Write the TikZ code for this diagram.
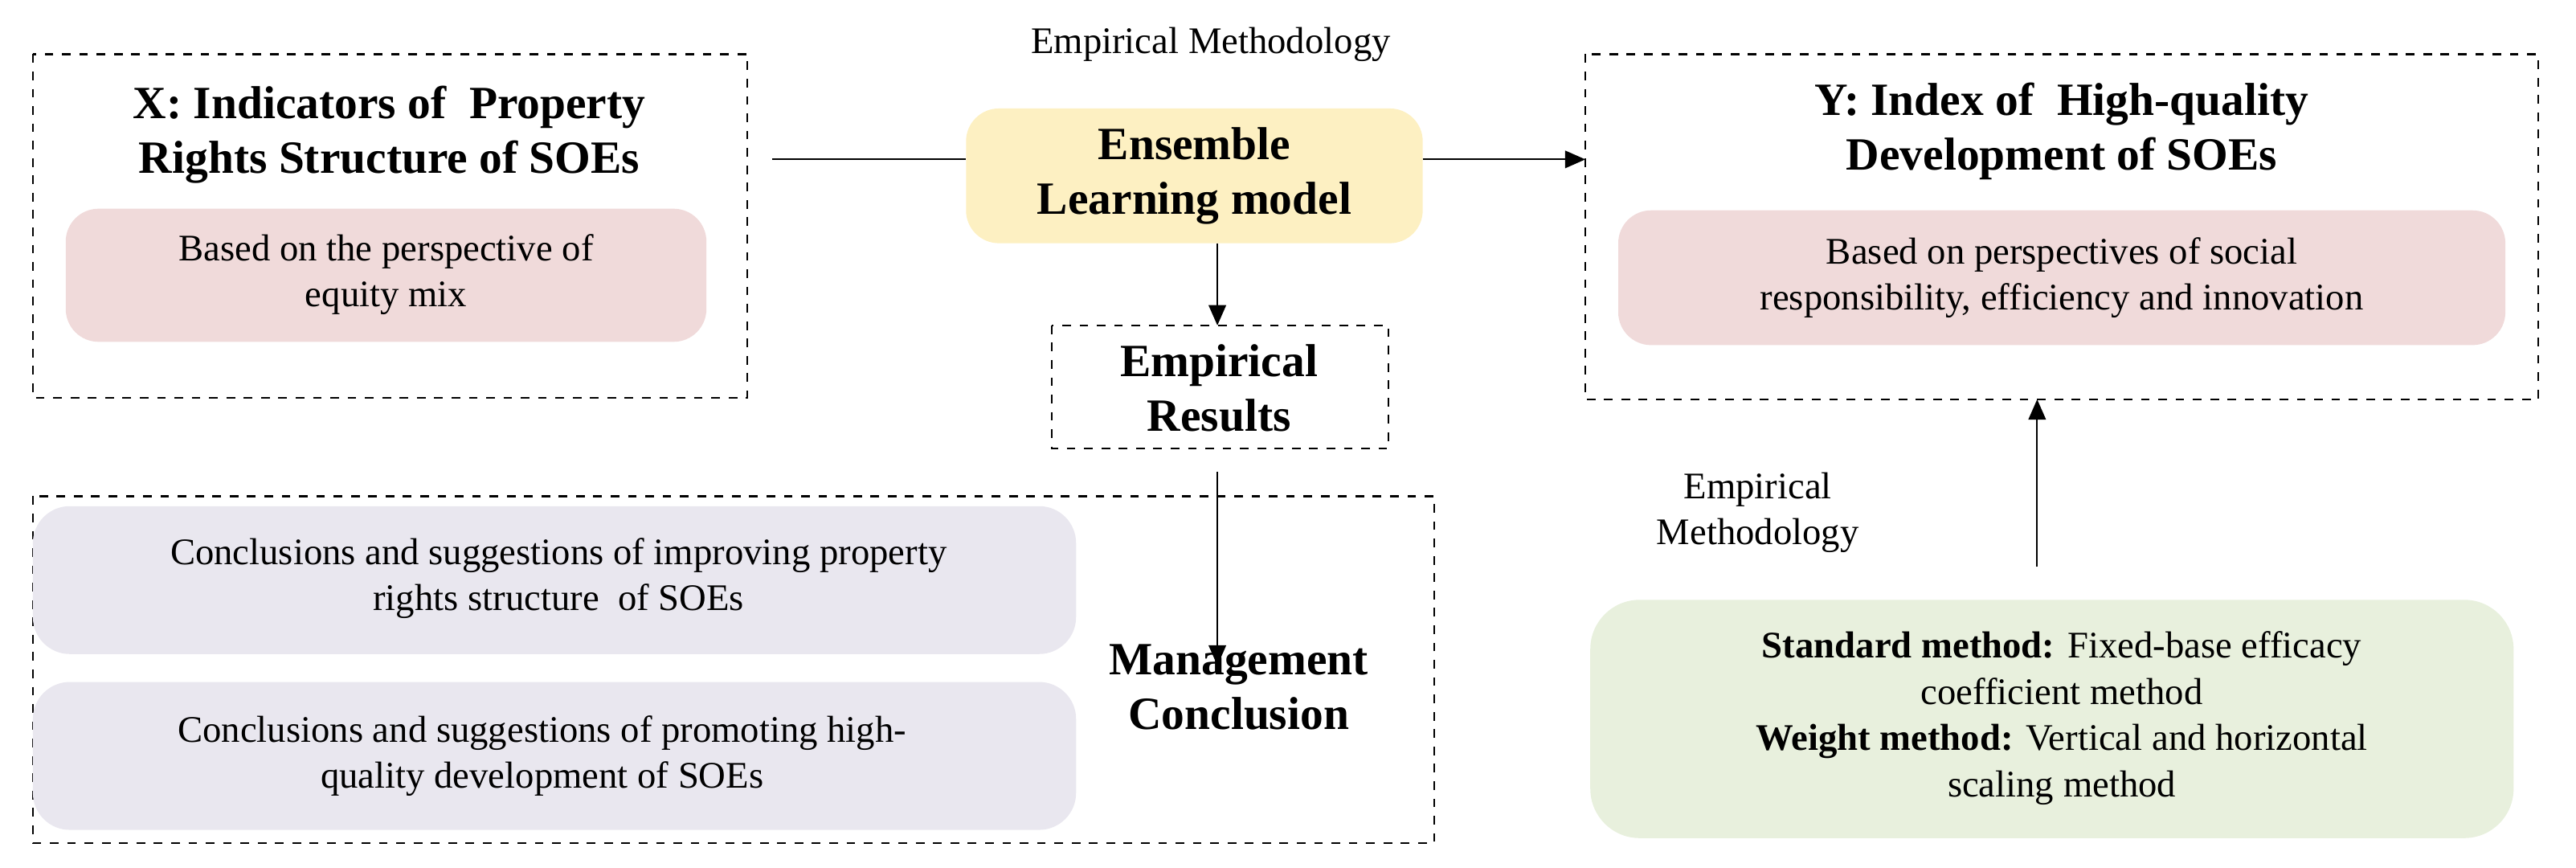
\documentclass[tikz,border=0pt]{standalone}
\usepackage{fontspec}
\setmainfont{Liberation Serif}
\usetikzlibrary{arrows.meta}
\definecolor{pinkf}{HTML}{F0DADA}
\definecolor{yelf}{HTML}{FDF0C2}
\definecolor{lavf}{HTML}{E9E7EF}
\definecolor{grnf}{HTML}{E8F0DD}
\begin{document}
\begin{tikzpicture}[x=0.02cm,y=-0.02cm,
  dbox/.style={draw,dashed,line width=0.6pt},
  pill/.style={rounded corners=0.4cm,draw=none,align=center,font=\fontsize{13}{16}\selectfont},
  ttl/.style={align=center,font=\fontsize{16}{19}\selectfont\bfseries},
  txt/.style={align=center,font=\fontsize{13}{16}\selectfont},
  arr/.style={-{Triangle[length=7pt,width=6pt]},line width=0.6pt}]
\useasboundingbox (0,0) rectangle (1568,528);
% X box
\draw[dbox] (20,33) rectangle (455,242);
\node[ttl] (xt) at (237,82) {X: Indicators of\ \ Property\\Rights Structure of SOEs};
\fill[pinkf,rounded corners=0.4cm] (40,127) rectangle (430,208);
\node[txt] (xp) at (235,167) {Based on the perspective of\\equity mix};
% middle
\node[txt] (em1) at (737,27) {Empirical Methodology};
\fill[yelf,rounded corners=0.4cm] (588,66) rectangle (866,148);
\node[ttl] (ens) at (727,107) {Ensemble\\Learning model};
\coordinate (xl) at (470,97);
\coordinate (el) at (588,97);
\coordinate (er) at (866,97);
\coordinate (yl) at (965,97);
\draw[line width=0.6pt] (xl) -- (el);
\draw[arr] (er) -- (yl);
% Y box
\draw[dbox] (965,33) rectangle (1545,243);
\node[ttl] (yt) at (1255,80) {Y: Index of\ \ High-quality\\Development of SOEs};
\fill[pinkf,rounded corners=0.4cm] (985,128) rectangle (1525,210);
\node[txt] (yp) at (1255,169) {Based on perspectives of social\\responsibility, efficiency and innovation};
% Empirical results
\draw[dbox] (640,198) rectangle (845,273);
\node[ttl] (er2) at (742,236) {Empirical\\Results};
\coordinate (eb) at (741,148);
\coordinate (rt) at (741,198);
\draw[arr] (eb) -- (rt);
% Management
\draw[dbox] (20,302) rectangle (873,513);
\fill[lavf,rounded corners=0.45cm] (20,308) rectangle (655,398);
\fill[lavf,rounded corners=0.45cm] (20,415) rectangle (655,505);
\node[txt] (c1) at (340,352) {Conclusions and suggestions of improving property\\rights structure\ \ of SOEs};
\node[txt] (c2) at (330,460) {Conclusions and suggestions of promoting high-\\quality development of SOEs};
\node[ttl] (mc) at (754,418) {Management\\Conclusion};
\coordinate (rb) at (741,287);
\coordinate (mt) at (741,405);
\draw[arr] (rb) -- (mt);
% right lower
\node[txt] (em2) at (1070,312) {Empirical\\Methodology};
\fill[grnf,rounded corners=0.6cm] (968,365) rectangle (1530,510);
\node[txt] (gm) at (1255,437) {\textbf{Standard method:} Fixed-base efficacy\\coefficient method\\\textbf{Weight method:} Vertical and horizontal\\scaling method};
\coordinate (ga) at (1240,345);
\coordinate (yb) at (1240,243);
\draw[arr] (ga) -- (yb);
\end{tikzpicture}
\end{document}
